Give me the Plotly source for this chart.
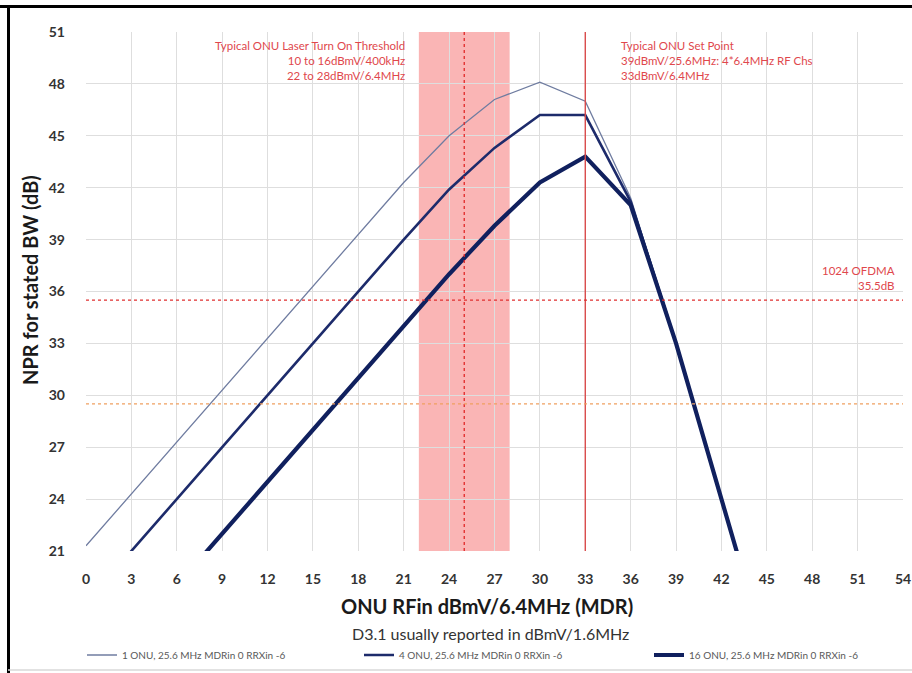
import plotly.graph_objects as go

# ---- data ----
x_vals = [0, 3, 6, 9, 12, 15, 18, 21, 24, 27, 30, 33, 36, 39, 42, 45]
onu1 = [21.3, 24.3, 27.3, 30.3, 33.3, 36.3, 39.3, 42.3, 45.0, 47.1, 48.1, 47.0, 41.4, 33.0, 24.0, 15.0]
onu4 = [18.0, 21.0, 24.0, 27.0, 30.0, 33.0, 36.0, 39.0, 41.9, 44.3, 46.2, 46.2, 41.2, 33.0, 24.0, 15.0]
onu16 = [13.0, 16.0, 19.0, 22.0, 25.0, 28.0, 31.0, 34.0, 37.0, 39.8, 42.3, 43.8, 41.0, 33.0, 24.0, 15.0]
series_names = ["1 ONU, 25.6 MHz MDRin 0 RRXin -6",
                "4 ONU, 25.6 MHz MDRin 0 RRXin -6",
                "16 ONU, 25.6 MHz MDRin 0 RRXin -6"]
x_ticks = list(range(0, 55, 3))
y_ticks = list(range(21, 52, 3))
band_range = [22, 28]
threshold_x = 25
setpoint_x = 33
ofdma_y = 35.5
orange_y = 29.5

W, H = 912, 673
L, R, T, B = 86, 9, 32, 122
pw, ph = W - L - R, H - T - B

def px2paper_x(px):
    return (px - L) / pw

def px2paper_y(py):
    return (H - B - py) / ph

FONT = "Lato"
RED = "#e0474c"

fig = go.Figure()
styles = [("#6f7ca0", 1.3), ("#1d2b6b", 2.6), ("#10205e", 4.2)]
legend_ids = ["legend", "legend2", "legend3"]
for name, ys, (c, w), lg in zip(series_names, [onu1, onu4, onu16], styles, legend_ids):
    fig.add_trace(go.Scatter(x=x_vals, y=ys, mode="lines", name=name, legend=lg,
                             line=dict(color=c, width=w)))

shapes = []
shapes.append(dict(type="rect", xref="x", yref="paper", x0=band_range[0], x1=band_range[1],
                   y0=0, y1=1, fillcolor="rgba(245,120,120,0.55)", line=dict(width=0), layer="between"))
shapes.append(dict(type="line", xref="x", yref="paper", x0=threshold_x, x1=threshold_x, y0=0, y1=1,
                   line=dict(color="#e02828", width=1.3, dash="dot")))
shapes.append(dict(type="line", xref="x", yref="paper", x0=setpoint_x, x1=setpoint_x, y0=0, y1=1,
                   line=dict(color="#d94a4a", width=1.4)))
shapes.append(dict(type="line", xref="paper", yref="y", x0=0, x1=1, y0=ofdma_y, y1=ofdma_y,
                   line=dict(color="#e03030", width=1.3, dash="dot")))
shapes.append(dict(type="line", xref="paper", yref="y", x0=0, x1=1, y0=orange_y, y1=orange_y,
                   line=dict(color="#f0a060", width=1.3, dash="dot")))
# outer frame
shapes.append(dict(type="line", xref="paper", yref="paper", x0=px2paper_x(0), x1=px2paper_x(W),
                   y0=px2paper_y(6.5), y1=px2paper_y(6.5), line=dict(color="black", width=3)))
shapes.append(dict(type="line", xref="paper", yref="paper", x0=px2paper_x(8.5), x1=px2paper_x(8.5),
                   y0=px2paper_y(6), y1=px2paper_y(H), line=dict(color="black", width=3)))
shapes.append(dict(type="line", xref="paper", yref="paper", x0=px2paper_x(8), x1=px2paper_x(W),
                   y0=px2paper_y(670), y1=px2paper_y(670), line=dict(color="#d8d8d8", width=1.5)))

annotations = []
annotations.append(dict(text="Typical ONU Laser Turn On Threshold<br>10 to 16dBmV/400kHz<br>22 to 28dBmV/6.4MHz",
                        xref="paper", yref="paper", x=px2paper_x(407), y=px2paper_y(37),
                        xanchor="right", yanchor="top", align="right", showarrow=False,
                        font=dict(family=FONT, size=11.5, color=RED)))
annotations.append(dict(text="Typical ONU Set Point<br>39dBmV/25.6MHz: 4*6.4MHz RF Chs<br>33dBmV/6.4MHz",
                        xref="paper", yref="paper", x=px2paper_x(619), y=px2paper_y(37),
                        xanchor="left", yanchor="top", align="left", showarrow=False,
                        font=dict(family=FONT, size=11.5, color=RED)))
annotations.append(dict(text="1024 OFDMA<br>35.5dB",
                        xref="paper", yref="paper", x=px2paper_x(897), y=px2paper_y(262),
                        xanchor="right", yanchor="top", align="right", showarrow=False,
                        font=dict(family=FONT, size=11.5, color=RED)))
annotations.append(dict(text="<b>NPR for stated BW (dB)</b>", textangle=-90,
                        xref="paper", yref="paper", x=px2paper_x(30), y=px2paper_y(280),
                        xanchor="center", yanchor="middle", showarrow=False,
                        font=dict(family=FONT, size=20, color="#1a1a1a")))
annotations.append(dict(text="<b>ONU RFin dBmV/6.4MHz (MDR)</b>",
                        xref="paper", yref="paper", x=px2paper_x(487), y=px2paper_y(606),
                        xanchor="center", yanchor="middle", showarrow=False,
                        font=dict(family=FONT, size=20, color="#1a1a1a")))
annotations.append(dict(text="D3.1 usually reported in dBmV/1.6MHz",
                        xref="paper", yref="paper", x=px2paper_x(490), y=px2paper_y(633),
                        xanchor="center", yanchor="middle", showarrow=False,
                        font=dict(family=FONT, size=16, color="#333333")))

def legend_cfg(px_left):
    return dict(orientation="h", x=px2paper_x(px_left), xanchor="left",
                y=px2paper_y(655), yanchor="middle",
                font=dict(family=FONT, size=10, color="#595959"),
                bgcolor="rgba(0,0,0,0)", itemwidth=30)

fig.update_layout(
    width=W, height=H,
    margin=dict(l=L, r=R, t=T, b=B, autoexpand=False),
    paper_bgcolor="white", plot_bgcolor="white",
    font=dict(family=FONT),
    shapes=shapes, annotations=annotations,
    showlegend=True,
    legend=legend_cfg(82),
    legend2=legend_cfg(359),
    legend3=legend_cfg(649),
    xaxis=dict(range=[0, 54], tickvals=x_ticks, ticktext=[f"<b>{t}</b>" for t in x_ticks],
               showgrid=True, gridcolor="#dedede", gridwidth=1, zeroline=False, automargin=False,
               showline=False, ticks="", ticklabelstandoff=18,
               tickfont=dict(family=FONT, size=14, color="#333333")),
    yaxis=dict(range=[21, 51], tickvals=y_ticks, ticktext=[f"<b>{t}</b>" for t in y_ticks],
               showgrid=True, gridcolor="#dedede", gridwidth=1, zeroline=False, automargin=False,
               showline=False, ticks="", ticklabelstandoff=20,
               tickfont=dict(family=FONT, size=14, color="#333333")),
)

fig.write_html("out.html")
